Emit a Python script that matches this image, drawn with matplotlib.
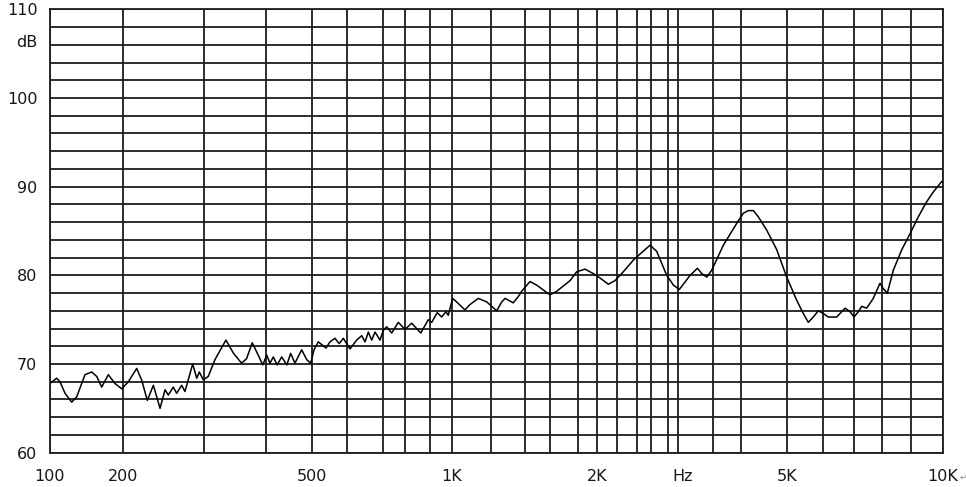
import numpy as np
import matplotlib
matplotlib.use("Agg")
import matplotlib.pyplot as plt
from matplotlib.ticker import FixedLocator, FixedFormatter, NullFormatter

# ---------------- data ----------------
freq_hz = [101, 106.6, 110, 115.4, 123, 129, 139.6, 148.8, 156.1, 163.7, 174.4, 185.8, 198.1,
           205.7, 214.5, 219.9, 226.2, 233.2, 241.1, 247.2, 251.3, 257.6, 262, 268.7, 273.1,
           283.9, 289.7, 293.5, 299.4, 306.4, 316.1, 332.6, 344.6, 357.6, 366, 375.8, 386.4,
           394.6, 401.9, 408.3, 414.9, 422.5, 431.8, 442.6, 450.8, 460.1, 475.2, 486.7, 496.1,
           504.4, 515.9, 537, 548.2, 562.6, 575.3, 587.5, 607, 624.6, 638.2, 647.3, 656.5,
           666.1, 675.6, 690.3, 700, 714.6, 736.6, 766.8, 798.6, 824.8, 861, 892.8, 907.4,
           931.9, 951.7, 971.5, 982.3, 1003, 1022, 1063, 1088, 1132, 1178, 1233, 1261, 1280,
           1328, 1358, 1379, 1438, 1490, 1600, 1645, 1739, 1788, 1870, 1961, 2032, 2114, 2182,
           2264, 2364, 2445, 2587, 2667, 2788, 2906, 3013, 3160, 3264, 3327, 3401, 3477, 3676,
           3927, 4050, 4150, 4252, 4355, 4534, 4758, 4993, 5253, 5434, 5575, 5719, 5867, 6018,
           6166, 6424, 6692, 6857, 6991, 7135, 7251, 7426, 7663, 7911, 8033, 8168, 8377, 8674,
           8977, 9228, 9486, 9694, 9972]
level_db = [67.9, 68.4, 68.0, 66.7, 65.7, 66.3, 68.8, 69.1, 68.6, 67.4, 68.8, 67.8, 67.2,
            68.0, 69.5, 68.2, 65.9, 67.6, 65.0, 67.1, 66.5, 67.4, 66.7, 67.6, 66.9,
            70.0, 68.4, 69.1, 68.2, 68.6, 70.5, 72.7, 71.2, 70.1, 70.6, 72.4, 71.0,
            69.9, 71.0, 70.1, 70.8, 69.9, 70.8, 69.9, 71.2, 70.1, 71.6, 70.5, 70.1,
            71.6, 72.5, 71.8, 72.5, 72.9, 72.3, 72.9, 71.7, 72.7, 73.2, 72.5, 73.6,
            72.7, 73.6, 72.7, 73.8, 74.2, 73.5, 74.7, 73.9, 74.6, 73.5, 75.0, 74.7,
            75.8, 75.3, 75.9, 75.5, 77.4, 77.0, 76.1, 76.7, 77.4, 77.0, 76.0, 77.0, 77.4,
            76.9, 77.6, 78.2, 79.3, 78.9, 77.8, 78.2, 79.4, 80.4, 80.7, 80.2, 79.7, 79.0, 79.4,
            80.4, 81.7, 82.4, 83.4, 82.7, 80.0, 78.9, 78.4, 80.0, 80.8, 80.2, 79.8, 80.6, 83.4,
            85.9, 87.0, 87.3, 87.3, 86.6, 85.1, 82.9, 79.8, 77.2, 75.7, 74.7, 75.3, 76.0, 75.7,
            75.3, 75.3, 76.3, 75.9, 75.3, 75.9, 76.5, 76.3, 77.4, 79.1, 78.5, 78.0, 80.6, 82.9,
            84.7, 86.6, 88.3, 89.4, 90.6]

grid_freqs = [100, 200, 300, 400, 500, 600, 700, 800, 900, 1000, 1200, 1400, 1600, 1800,
              2000, 2200, 2400, 2600, 2800, 3000, 3500, 4000, 5000, 6000, 7000, 8000, 9000, 10000]
label_freqs = [100, 200, 500, 1000, 2000, 5000, 10000]
label_texts = ['100', '200', '500', '1K', '2K', '5K', '10K']
y_major = [60, 70, 80, 90, 100, 110]
y_minor = list(range(60, 111, 2))

# ---------------- layout / style ----------------
# the printed frequency axis is a warped log axis; positions of its gridlines (pixels)
grid_px = [50, 122.7, 203.7, 265.7, 312.3, 347.3, 383.3, 405.3, 430, 452, 490.7, 525, 550,
           578.3, 596.7, 616.7, 636.7, 651, 667.7, 678.3, 713.3, 740.7, 787, 822.7, 854.3,
           882.3, 910.7, 942.7]
LF = np.log10(np.array(grid_freqs, float))
POS = (np.array(grid_px) - grid_px[0]) / (grid_px[-1] - grid_px[0])
S0 = (POS[1] - POS[0]) / (LF[1] - LF[0])
S1 = (POS[-1] - POS[-2]) / (LF[-1] - LF[-2])


def fwd(f):
    f = np.asarray(f, float)
    l = np.log10(np.clip(f, 1e-6, None))
    out = np.interp(l, LF, POS)
    out = np.where(l < LF[0], POS[0] + (l - LF[0]) * S0, out)
    out = np.where(l > LF[-1], POS[-1] + (l - LF[-1]) * S1, out)
    return out


def inv(p):
    p = np.asarray(p, float)
    l = np.interp(p, POS, LF)
    l = np.where(p < POS[0], LF[0] + (p - POS[0]) / S0, l)
    l = np.where(p > POS[-1], LF[-1] + (p - POS[-1]) / S1, l)
    return 10 ** l


W, H = 966, 487
fig = plt.figure(figsize=(W / 100, H / 100), dpi=100)
fig.patch.set_facecolor('white')
left, right, top, bottom = 50, 942.7, 9.3, 452.7
ax = fig.add_axes([left / W, 1 - bottom / H, (right - left) / W, (bottom - top) / H])

ax.set_xscale('function', functions=(fwd, inv))
ax.set_xlim(100, 10000)
ax.set_ylim(60, 110)

GRID_C = '#1c1c1c'
GRID_LW = 1.3
FONT = 'DejaVu Sans'
FS = 11.5
TXT_C = '#161616'

ax.xaxis.set_major_locator(FixedLocator(label_freqs))
ax.xaxis.set_major_formatter(FixedFormatter(label_texts))
ax.xaxis.set_minor_locator(FixedLocator(grid_freqs))
ax.xaxis.set_minor_formatter(NullFormatter())
ax.yaxis.set_major_locator(FixedLocator(y_major))
ax.yaxis.set_minor_locator(FixedLocator(y_minor))
ax.yaxis.set_minor_formatter(NullFormatter())

ax.tick_params(which='both', length=0)
ax.tick_params(axis='x', which='major', pad=11.5, labelsize=FS)
ax.tick_params(axis='y', which='major', pad=9, labelsize=FS)
for lab in ax.get_xticklabels() + ax.get_yticklabels():
    lab.set_fontfamily(FONT)
    lab.set_color(TXT_C)

ax.grid(which='both', color=GRID_C, linewidth=GRID_LW)
ax.set_axisbelow(True)
for sp in ax.spines.values():
    sp.set_color(GRID_C)
    sp.set_linewidth(GRID_LW)

ax.plot(freq_hz, level_db, color='black', linewidth=1.1, zorder=3,
        solid_joinstyle='round', solid_capstyle='round')

ax.annotate('dB', xy=(0, 106.2), xycoords=('axes fraction', 'data'),
            xytext=(-13, 0), textcoords='offset pixels', ha='right', va='center',
            fontsize=FS, family=FONT, color=TXT_C)
ax.annotate('Hz', xy=(3060, 0), xycoords=('data', 'axes fraction'),
            xytext=(0, -24), textcoords='offset pixels', ha='center', va='center',
            fontsize=FS, family=FONT, color=TXT_C)
ax.annotate('\u21b5', xy=(10000, 0), xycoords=('data', 'axes fraction'),
            xytext=(17, -25), textcoords='offset pixels', ha='left', va='center',
            fontsize=6, family='DejaVu Sans', color='#888888', annotation_clip=False)

fig.savefig('out.png', dpi=100, facecolor='white')
